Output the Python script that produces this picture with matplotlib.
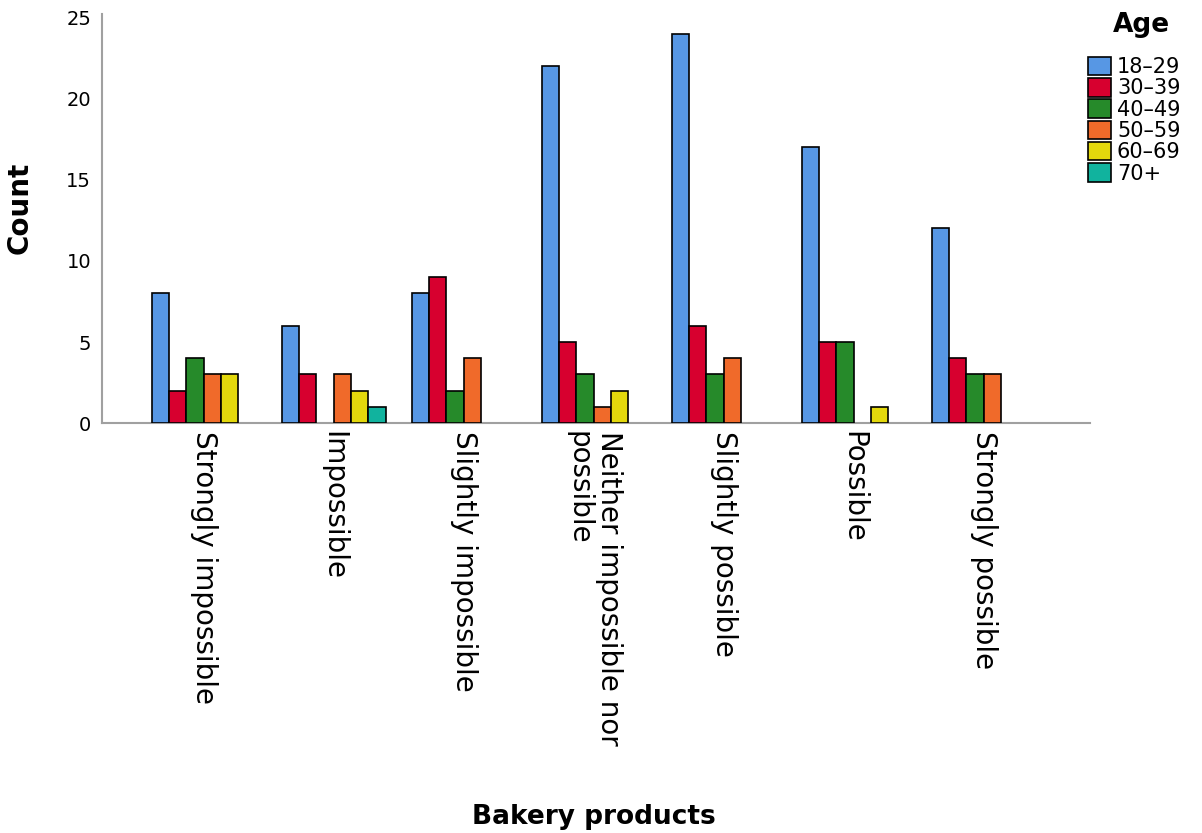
import matplotlib
matplotlib.use("Agg")
import matplotlib.pyplot as plt
import numpy as np
from matplotlib.patches import Patch

categories = ["Strongly impossible", "Impossible", "Slightly impossible",
              "Neither impossible nor\npossible", "Slightly possible",
              "Possible", "Strongly possible"]
age_groups = ["18\u201329", "30\u201339", "40\u201349", "50\u201359", "60\u201369", "70+"]

age_18_29 = [8, 6, 8, 22, 24, 17, 12]
age_30_39 = [2, 3, 9, 5, 6, 5, 4]
age_40_49 = [4, 0, 2, 3, 3, 5, 3]
age_50_59 = [3, 3, 4, 1, 4, 0, 3]
age_60_69 = [3, 2, 0, 2, 0, 1, 0]
age_70_plus = [0, 1, 0, 0, 0, 0, 0]

series = [age_18_29, age_30_39, age_40_49, age_50_59, age_60_69, age_70_plus]
colors = ["#5797E4", "#D7002F", "#268A2A", "#F06A2A", "#E3D80C", "#11B39E"]

plt.rcParams["font.family"] = ["DejaVu Sans"]

fig = plt.figure(figsize=(12.02, 8.33), dpi=100)
ax = fig.add_axes([0.085, 0.492, 0.822, 0.491])

x = np.arange(len(categories))
n = len(series)
width = 0.8 / n
for i, (vals, col) in enumerate(zip(series, colors)):
    offs = (i - (n - 1) / 2) * width
    v = np.array(vals, dtype=float)
    mask = v > 0
    ax.bar(x[mask] + offs, v[mask], width=width, color=col,
           edgecolor="black", linewidth=1.2, zorder=3)

ax.set_xlim(-0.78, 6.82)
ax.set_ylim(0, 25.2)
ax.set_yticks([0, 5, 10, 15, 20, 25])
ax.set_xticks(x)
ax.set_xticklabels(categories, rotation=-90, va="top", ha="center",
                   multialignment="left", linespacing=1.1)
ax.tick_params(axis="both", length=0, colors="black")
ax.tick_params(axis="x", labelsize=20, pad=6)
ax.tick_params(axis="y", labelsize=14, pad=8)

for s in ["top", "right"]:
    ax.spines[s].set_visible(False)
for s in ["left", "bottom"]:
    ax.spines[s].set_color("#A0A0A0")
    ax.spines[s].set_linewidth(1.5)

ax.set_ylabel("Count", fontsize=20, fontweight="bold")
ax.yaxis.set_label_coords(-0.069, 0.526)
fig.text(0.494, 0.004, "Bakery products", fontsize=19, fontweight="bold",
         ha="center", va="bottom")

# legend title placed on its own, entries below it
fig.text(0.950, 0.970, "Age", fontsize=19, fontweight="bold",
         ha="center", va="center")
handles = [Patch(facecolor=c, edgecolor="black", linewidth=1.2) for c in colors]
leg = fig.legend(handles, age_groups, loc="upper left",
                 bbox_to_anchor=(0.905, 0.932), frameon=False, fontsize=15,
                 handlelength=1.1, handleheight=1.0, handletextpad=0.3,
                 labelspacing=0.04, borderaxespad=0, borderpad=0)

fig.savefig("out.png", dpi=100)
